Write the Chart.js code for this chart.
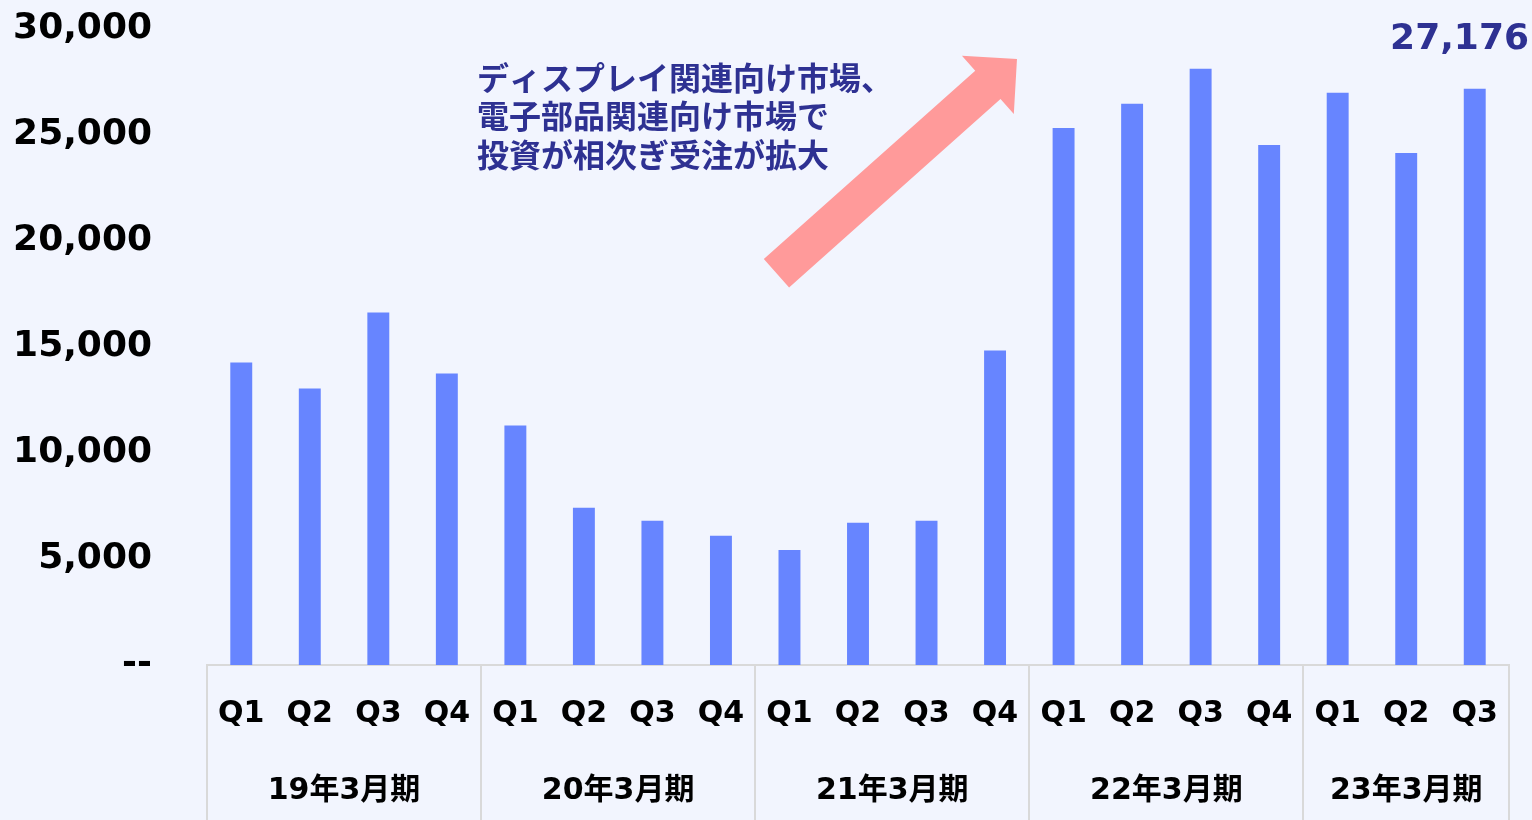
<!DOCTYPE html>
<html>
<head>
  <title>受注高推移</title>
  <script src="https://cdn.jsdelivr.net/npm/chart.js"></script>
  <style>
    html, body { margin: 0; padding: 0; background: #F2F5FE; }
    canvas { display: block; }
  </style>
</head>
<body>
<canvas id="ordersChart" width="1532" height="820"></canvas>

<script>
  // data
  const quarters = ['Q1', 'Q2', 'Q3', 'Q4', 'Q1', 'Q2', 'Q3', 'Q4', 'Q1', 'Q2', 'Q3', 'Q4',
                    'Q1', 'Q2', 'Q3', 'Q4', 'Q1', 'Q2', 'Q3'];
  const fiscalYears = ['19年3月期', '20年3月期', '21年3月期', '22年3月期', '23年3月期'];
  const quartersPerYear = [4, 4, 4, 4, 3];
  const orders = [14270, 13040, 16630, 13750, 11300, 7420, 6800, 6100, 5430, 6710, 6800, 14840,
                  25330, 26470, 28120, 24530, 26990, 24150, 27176];
  const yTicks = [0, 5000, 10000, 15000, 20000, 25000, 30000];
  const noteLines = ['ディスプレイ関連向け市場、', '電子部品関連向け市場で', '投資が相次ぎ受注が拡大'];

  const NAVY = '#2E3192';
  const FONT = '"DejaVu Sans", "Noto Sans CJK JP", sans-serif';
  const CJK = '"Noto Sans CJK JP", sans-serif';

  const fmt = v => v === 0 ? '--' : v.toLocaleString('en-US');

  // group labels + separators under the quarter labels, arrow, note, last value
  const extras = {
    id: 'extras',
    afterDraw(chart) {
      const ctx = chart.ctx;
      const x = chart.scales.x;
      const y = chart.scales.y;

      ctx.save();
      // separators and fiscal year labels
      ctx.strokeStyle = '#D9D9D9';
      ctx.lineWidth = 2;
      let start = 0;
      const bounds = [0];
      quartersPerYear.forEach(n => { start += n; bounds.push(start); });
      bounds.forEach(b => {
        const px = Math.round(x.getPixelForValue(b - 0.5));
        ctx.beginPath();
        ctx.moveTo(px, x.top);
        ctx.lineTo(px, chart.height);
        ctx.stroke();
      });
      ctx.fillStyle = '#000';
      ctx.font = 'bold 30px ' + FONT;
      ctx.textAlign = 'center';
      ctx.textBaseline = 'middle';
      fiscalYears.forEach((name, i) => {
        const a = x.getPixelForValue(bounds[i] - 0.5);
        const b = x.getPixelForValue(bounds[i + 1] - 0.5);
        ctx.fillText(name, (a + b) / 2, x.top + 126);
      });

      // value label on the latest quarter
      const last = orders.length - 1;
      ctx.fillStyle = NAVY;
      ctx.font = 'bold 36px ' + FONT;
      ctx.textAlign = 'right';
      const label = fmt(orders[last]);
      const w = ctx.measureText(label).width;
      const lx = Math.min(x.getPixelForValue(last) + w / 2, chart.width - 3);
      ctx.fillText(label, lx, y.getPixelForValue(orders[last]) - 49);

      // note text
      ctx.font = 'bold 32px ' + CJK;
      ctx.textAlign = 'left';
      noteLines.forEach((line, i) => {
        ctx.fillText(line, x.getPixelForValue(3.44), y.getPixelForValue(27700) + i * 38.5);
      });

      // big pink arrow
      const x0 = x.getPixelForValue(7.81), y0 = y.getPixelForValue(18480);
      const x1 = x.getPixelForValue(11.32), y1 = y.getPixelForValue(28590);
      const len = Math.hypot(x1 - x0, y1 - y0);
      const ux = (x1 - x0) / len, uy = (y1 - y0) / len;
      const nx = -uy, ny = ux;
      const shaft = 19, head = 39, headLen = 39;
      const hx = x1 - ux * headLen, hy = y1 - uy * headLen;
      ctx.fillStyle = '#FF9A9A';
      ctx.beginPath();
      ctx.moveTo(x0 + nx * shaft, y0 + ny * shaft);
      ctx.lineTo(hx + nx * shaft, hy + ny * shaft);
      ctx.lineTo(hx + nx * head, hy + ny * head);
      ctx.lineTo(x1, y1);
      ctx.lineTo(hx - nx * head, hy - ny * head);
      ctx.lineTo(hx - nx * shaft, hy - ny * shaft);
      ctx.lineTo(x0 - nx * shaft, y0 - ny * shaft);
      ctx.closePath();
      ctx.fill();
      ctx.restore();
    }
  };

  new Chart(document.getElementById('ordersChart').getContext('2d'), {
    type: 'bar',
    data: {
      labels: quarters,
      datasets: [{
        data: orders,
        backgroundColor: '#6785FF',
        barPercentage: 0.32,
        categoryPercentage: 1
      }]
    },
    options: {
      responsive: false,
      animation: false,
      layout: { padding: { top: 29, right: 23, left: 0, bottom: 0 } },
      plugins: { legend: { display: false }, tooltip: { enabled: false } },
      scales: {
        x: {
          grid: { display: false },
          border: { display: true, color: '#D9D9D9', width: 2 },
          ticks: {
            color: '#000',
            font: { family: FONT, size: 30, weight: 'bold' },
            padding: 23,
            maxRotation: 0,
            autoSkip: false
          },
          afterFit: s => { s.height = 155; }
        },
        y: {
          min: 0,
          max: 30000,
          grid: { display: false },
          border: { display: false },
          afterBuildTicks: s => { s.ticks = yTicks.map(v => ({ value: v })); },
          ticks: {
            color: '#000',
            font: { family: FONT, size: 36, weight: 'bold' },
            padding: 47,
            callback: v => fmt(v)
          },
          afterFit: s => { s.width = 207; s.paddingTop = 0; s.paddingBottom = 0; }
        }
      }
    },
    plugins: [extras]
  });
</script>
</body>
</html>
